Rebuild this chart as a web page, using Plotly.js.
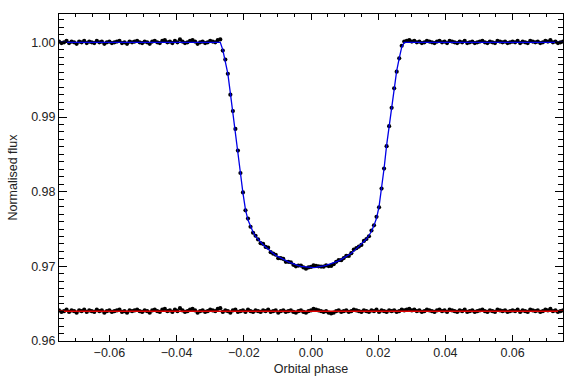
<!DOCTYPE html>
<html>
<head>
<meta charset="utf-8">
<script src="https://cdn.plot.ly/plotly-3.0.1.min.js"></script>
<style>html,body{margin:0;padding:0;background:#fff;}#chart{width:567px;height:377px;}</style>
</head>
<body>
<div id="chart"></div>
<script>
// Observed orbital phase
var phase = [
-0.075,-0.07425,-0.0735,-0.07275,-0.072,-0.07125,-0.0705,-0.06975,-0.069,-0.06825,
-0.0675,-0.06675,-0.066,-0.06525,-0.0645,-0.06375,-0.063,-0.06225,-0.0615,-0.06075,
-0.06,-0.05925,-0.0585,-0.05775,-0.057,-0.05625,-0.0555,-0.05475,-0.054,-0.05325,
-0.0525,-0.05175,-0.051,-0.05025,-0.0495,-0.04875,-0.048,-0.04725,-0.0465,-0.04575,
-0.045,-0.04425,-0.0435,-0.04275,-0.042,-0.04125,-0.0405,-0.03975,-0.039,-0.03825,
-0.0375,-0.03675,-0.036,-0.03525,-0.0345,-0.03375,-0.033,-0.03225,-0.0315,-0.03075,
-0.03,-0.02925,-0.0285,-0.02775,-0.027,-0.02625,-0.0255,-0.02475,-0.024,-0.02325,
-0.0225,-0.02175,-0.021,-0.02025,-0.0195,-0.01875,-0.018,-0.01725,-0.0165,-0.01575,
-0.015,-0.01425,-0.0135,-0.01275,-0.012,-0.01125,-0.0105,-0.00975,-0.009,-0.00825,
-0.0075,-0.00675,-0.006,-0.00525,-0.0045,-0.00375,-0.003,-0.00225,-0.0015,-0.00075,
0,0.00075,0.0015,0.00225,0.003,0.00375,0.0045,0.00525,0.006,0.00675,
0.0075,0.00825,0.009,0.00975,0.0105,0.01125,0.012,0.01275,0.0135,0.01425,
0.015,0.01575,0.0165,0.01725,0.018,0.01875,0.0195,0.02025,0.021,0.02175,
0.0225,0.02325,0.024,0.02475,0.0255,0.02625,0.027,0.02775,0.0285,0.02925,
0.03,0.03075,0.0315,0.03225,0.033,0.03375,0.0345,0.03525,0.036,0.03675,
0.0375,0.03825,0.039,0.03975,0.0405,0.04125,0.042,0.04275,0.0435,0.04425,
0.045,0.04575,0.0465,0.04725,0.048,0.04875,0.0495,0.05025,0.051,0.05175,
0.0525,0.05325,0.054,0.05475,0.0555,0.05625,0.057,0.05775,0.0585,0.05925,
0.06,0.06075,0.0615,0.06225,0.063,0.06375,0.0645,0.06525,0.066,0.06675,
0.0675,0.06825,0.069,0.06975,0.0705,0.07125,0.072,0.07275,0.0735,0.07425,
0.075
];
// Observed normalised flux
var flux = [
1.0001,0.9999,1.0000,1.0002,0.9999,1.0001,1.0000,0.9998,1.0001,1.0000,
1.0002,0.9999,1.0001,1.0000,0.9999,1.0002,1.0000,1.0001,0.9998,1.0000,
1.0001,0.9999,1.0000,1.0001,1.0002,0.9999,1.0000,0.9998,1.0001,1.0000,
1.0001,1.0002,1.0000,0.9999,1.0001,1.0000,0.9998,1.0001,1.0002,1.0000,
0.9999,1.0002,1.0003,1.0000,1.0001,0.9999,1.0002,1.0000,1.0004,1.0001,
0.9999,1.0000,1.0002,1.0003,1.0001,0.9998,1.0000,1.0001,0.9999,1.0000,
1.0002,1.0001,1.0000,1.0003,1.0004,0.9989,0.9977,0.9958,0.9930,0.9908,
0.9884,0.9855,0.9825,0.9799,0.9775,0.9764,0.9753,0.9745,0.9741,0.9736,
0.9731,0.9730,0.9726,0.9725,0.9719,0.9717,0.97155,0.9711,0.9711,0.9710,
0.9706,0.9706,0.97055,0.9702,0.9700,0.9701,0.9701,0.96985,0.96969,0.96985,
0.96992,0.97012,0.97006,0.9700,0.96997,0.96995,0.97013,0.97004,0.97006,0.97028,
0.97061,0.97084,0.97083,0.97111,0.9714,0.97139,0.97176,0.97224,0.97244,0.97265,
0.97287,0.97341,0.97366,0.97403,0.9748,0.97549,0.97663,0.9779,0.98041,0.9831,
0.9861,0.98877,0.99123,0.99385,0.99607,0.99786,0.99955,1.0001,1.0002,1.0003,
1.0001,1.0002,1.0000,1.0001,0.9999,1.0000,1.0002,1.0001,1.0000,0.9999,
1.0001,1.0002,1.0000,1.0001,0.9999,1.0002,1.0001,1.0000,0.9999,1.0001,
1.0000,1.0002,0.9999,1.0000,1.0001,0.9999,1.0000,1.0001,1.0002,1.0000,
0.9999,1.0001,1.0000,0.9999,1.0002,1.0001,1.0000,1.0001,0.9999,1.0000,
1.0001,1.0000,1.0002,0.9999,1.0001,1.0000,0.9999,1.0002,1.0001,1.0000,
1.0001,0.9999,1.0000,1.0002,1.0001,1.0003,1.0000,1.0001,0.9999,1.0000,
1.0001
];
// Residuals (offset)
var resid = [
0.9641,0.9639,0.9640,0.9642,0.9639,0.9641,0.9640,0.9638,0.9641,0.9640,
0.9642,0.9639,0.9641,0.9640,0.9639,0.9642,0.9640,0.9641,0.9638,0.9640,
0.9641,0.9639,0.9640,0.9641,0.9642,0.9639,0.9640,0.9638,0.9641,0.9640,
0.9641,0.9642,0.9640,0.9639,0.9641,0.9640,0.9638,0.9641,0.9642,0.9640,
0.9639,0.9642,0.9643,0.9640,0.9641,0.9639,0.9642,0.9640,0.9644,0.9641,
0.9639,0.9640,0.9642,0.9643,0.9641,0.9638,0.9640,0.9641,0.9639,0.9640,
0.9642,0.9641,0.9640,0.9643,0.9644,0.9639,0.9641,0.9640,0.9638,0.9641,
0.9642,0.9639,0.9640,0.9641,0.9639,0.9642,0.9640,0.9639,0.9641,0.9640,
0.9639,0.9641,0.9640,0.9642,0.9639,0.9640,0.9641,0.9638,0.9640,0.9641,
0.9639,0.9640,0.9641,0.9639,0.9638,0.9640,0.9641,0.9639,0.9638,0.9640,
0.9641,0.9643,0.9642,0.9641,0.9640,0.9639,0.9640,0.9638,0.9637,0.9638,
0.9640,0.9641,0.9639,0.9640,0.9641,0.9639,0.9640,0.9642,0.9641,0.9640,
0.9639,0.9641,0.9640,0.9639,0.9641,0.9640,0.9642,0.9639,0.9641,0.9640,
0.9639,0.9641,0.9640,0.9641,0.9639,0.9640,0.9642,0.9641,0.9642,0.9643,
0.9641,0.9642,0.9640,0.9641,0.9639,0.9640,0.9642,0.9641,0.9640,0.9639,
0.9641,0.9642,0.9640,0.9641,0.9639,0.9642,0.9641,0.9640,0.9639,0.9641,
0.9640,0.9642,0.9639,0.9640,0.9641,0.9639,0.9640,0.9641,0.9642,0.9640,
0.9639,0.9641,0.9640,0.9639,0.9642,0.9641,0.9640,0.9641,0.9639,0.9640,
0.9641,0.9640,0.9642,0.9639,0.9641,0.9640,0.9639,0.9642,0.9641,0.9640,
0.9641,0.9639,0.9640,0.9642,0.9641,0.9643,0.9640,0.9641,0.9639,0.9640,
0.9641
];
// Transit model (blue line)
var modelPhase = [
-0.075,-0.027,-0.02625,-0.0255,-0.02475,-0.024,-0.02325,-0.0225,-0.02175,-0.021,
-0.02025,-0.0195,-0.01875,-0.018,-0.01725,-0.0165,-0.01575,-0.015,-0.01425,-0.0135,
-0.01275,-0.012,-0.01125,-0.0105,-0.00975,-0.009,-0.00825,-0.0075,-0.00675,-0.006,
-0.00525,-0.0045,-0.00375,-0.003,-0.00225,-0.0015,-0.00075,0,0.00075,0.0015,
0.00225,0.003,0.00375,0.0045,0.00525,0.006,0.00675,0.0075,0.00825,0.009,
0.00975,0.0105,0.01125,0.012,0.01275,0.0135,0.01425,0.015,0.01575,0.0165,
0.01725,0.018,0.01875,0.0195,0.02025,0.021,0.02175,0.0225,0.02325,0.024,
0.02475,0.0255,0.02625,0.027,0.02775,0.075
];
var modelFlux = [
1.0,1.0,0.9990,0.9976,0.9958,0.9932,0.9907,0.9882,0.9856,0.9825,
0.9798,0.9776,0.9762,0.9753,0.9746,0.9740,0.9736,0.9732,0.9729,0.9726,
0.9723,0.9720,0.9717,0.97145,0.9713,0.9711,0.9709,0.9707,0.9706,0.97045,
0.9703,0.9702,0.9701,0.9700,0.96995,0.96989,0.96985,0.96982,0.96982,0.96986,
0.9699,0.96997,0.97005,0.97013,0.97024,0.97036,0.97048,0.97061,0.97074,0.97093,
0.97111,0.9713,0.97149,0.97176,0.97204,0.97234,0.97265,0.97297,0.97331,0.97366,
0.97413,0.9747,0.97549,0.97643,0.9780,0.98031,0.9831,0.9862,0.98867,0.99123,
0.99375,0.99617,0.99786,0.99935,1.0,1.0
];
// Residual zero level (red line)
var residLinePhase = [-0.075, 0.075];
var residLineFlux = [0.9640, 0.9640];

var xTickVals = [-0.06,-0.04,-0.02,0.00,0.02,0.04,0.06];
var yTickVals = [0.96,0.97,0.98,0.99,1.00];

var fontFam = '"Liberation Sans", Arial, sans-serif';
var traces = [
  {x: phase, y: flux, type: 'scatter', mode: 'markers',
   marker: {color: '#000', size: 4.2}, hoverinfo: 'skip'},
  {x: modelPhase, y: modelFlux, type: 'scatter', mode: 'lines',
   line: {color: '#0000e6', width: 1.3}, hoverinfo: 'skip'},
  {x: phase, y: resid, type: 'scatter', mode: 'markers',
   marker: {color: '#000', size: 4.2}, hoverinfo: 'skip'},
  {x: residLinePhase, y: residLineFlux, type: 'scatter', mode: 'lines',
   line: {color: '#e00000', width: 1.5}, hoverinfo: 'skip'}
];

var axisCommon = {
  showgrid: false, zeroline: false, showline: true, linecolor: '#000', linewidth: 1,
  mirror: 'allticks', ticks: 'inside', tickcolor: '#000', tickwidth: 1,
  tickfont: {family: fontFam, size: 12.5, color: '#222'}
};

var layout = {
  width: 567, height: 377,
  margin: {l: 59, r: 4, t: 14, b: 36, pad: 0},
  paper_bgcolor: '#fff', plot_bgcolor: '#fff',
  showlegend: false,
  xaxis: Object.assign({}, axisCommon, {
    range: [-0.075, 0.075],
    tickmode: 'array', tickvals: xTickVals, tickformat: '.2f', ticklen: 6,
    minor: {dtick: 0.005, ticks: 'inside', ticklen: 3, tickcolor: '#000', showgrid: false},
    title: {text: 'Orbital phase', font: {family: fontFam, size: 12.5, color: '#222'}, standoff: 5}
  }),
  yaxis: Object.assign({}, axisCommon, {
    range: [0.96, 1.0038],
    tickmode: 'array', tickvals: yTickVals, tickformat: '.2f', ticklen: 8,
    minor: {dtick: 0.001, ticks: 'inside', ticklen: 5, tickcolor: '#000', showgrid: false},
    title: {text: 'Normalised flux', font: {family: fontFam, size: 12.5, color: '#222'}, standoff: 10}
  })
};

Plotly.newPlot('chart', traces, layout, {staticPlot: true, displayModeBar: false});
</script>
</body>
</html>
